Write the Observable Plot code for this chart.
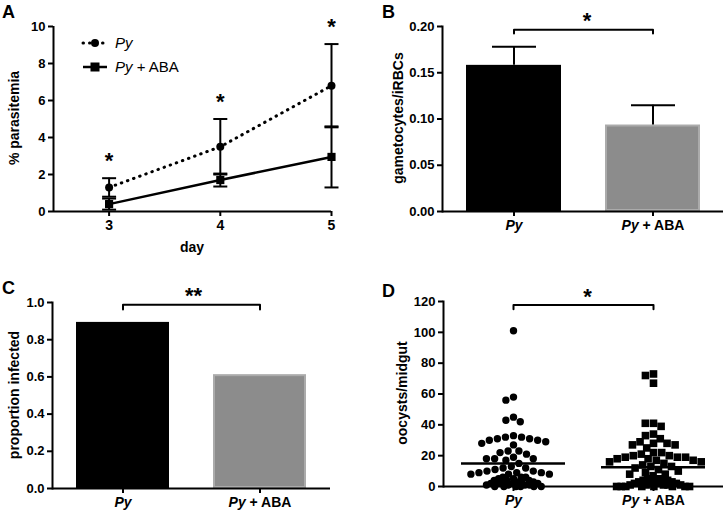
<!DOCTYPE html>
<html><head><meta charset="utf-8">
<script src="https://cdn.jsdelivr.net/npm/d3@7"></script>
<script src="https://cdn.jsdelivr.net/npm/@observablehq/plot@0.6"></script>
<style>
body{margin:0;background:#fff;}
#wrap{position:relative;width:725px;height:513px;font-family:"Liberation Sans",Arial,sans-serif;color:#000;overflow:hidden;}
.pn{position:absolute;}
.letter{position:absolute;font-weight:bold;font-size:18px;line-height:18px;}
.ylab{position:absolute;font-weight:bold;font-size:14px;line-height:14px;white-space:nowrap;transform:translate(-50%,-50%) rotate(-90deg);}
.xlab{position:absolute;font-weight:bold;font-size:14px;line-height:14px;white-space:nowrap;transform:translate(-50%,-50%);}
.leg{position:absolute;font-size:15px;line-height:16px;display:flex;align-items:center;white-space:nowrap;}
</style></head><body>
<div id="wrap"></div>
<script>
// ---------- Panel A: % parasitemia over days ----------
const days = [3, 4, 5];
const pyMean = [1.3, 3.5, 6.8];
const pyErr = [0.5, 1.5, 2.25];
const abaMean = [0.4, 1.7, 2.95];
const abaErr = [0.3, 0.35, 1.65];
const sigA = ["*", "*", "*"];
const ticksA = [0, 2, 4, 6, 8, 10];

// ---------- Panel B: gametocytes/iRBCs ----------
const groups = ["Py", "Py + ABA"];
const gamMean = [0.158, 0.0935];
const gamErr = [0.020, 0.0215];
const ticksB = [0, 0.05, 0.10, 0.15, 0.20];
const bracketB = [0.1925, 0.1965]; // tick foot, bar level
const starB = 0.2065;

// ---------- Panel C: proportion infected ----------
const propInfected = [0.893, 0.612];
const ticksC = [0, 0.2, 0.4, 0.6, 0.8, 1.0];
const bracketC = [0.962, 0.988];
const starC = 1.035;

// ---------- Panel D: oocysts/midgut ----------
const oocPy = [101, 58, 56, 45, 43, 42, 33, 32, 32, 31, 31, 30, 30, 29, 28, 27,
  23, 23, 22, 21, 19, 18, 18, 18, 17, 15, 13, 12, 12, 11, 10, 10, 9, 9, 9, 8, 8, 8,
  6, 6, 6, 5, 5, 4, 4, 4, 3, 3, 3, 3, 2, 2, 2, 2, 1, 1, 1, 1, 0, 0, 0, 0, 0, 0];
const oocAba = [73, 72, 67, 41, 41, 39, 34, 33, 31, 29, 28, 28, 27, 27, 25, 22, 22, 21,
  20, 20, 19, 19, 19, 18, 18, 17, 17, 16, 16, 15, 14, 13, 13, 12, 11, 10, 9, 8, 8, 7,
  5, 5, 4, 4, 4, 3, 3, 3, 2, 2, 2, 2, 1, 1, 1, 1, 1, 0, 0, 0, 0, 0, 0, 0, 0];
const oocMeans = [15, 12.5];
const ticksD = [0, 20, 40, 60, 80, 100, 120];
const bracketD = [115, 117.7];
const starD = 123;

// ---------- helpers ----------
const wrap = document.getElementById("wrap");
const FONT = '"Liberation Sans", Arial, sans-serif';
const baseStyle = {fontFamily: FONT, fontSize: "13px", fontWeight: "bold", color: "#000", background: "transparent", overflow: "visible"};
const cap = {draw(ctx, size) { const r = Math.sqrt(size / Math.PI); ctx.moveTo(-r, 0); ctx.lineTo(r, 0); }};
const circleSym = (rad) => ({draw(ctx) { ctx.moveTo(rad, 0); ctx.arc(0, 0, rad, 0, 2 * Math.PI); ctx.closePath(); }});
const squareSym = (h) => ({draw(ctx) { ctx.rect(-h, -h, 2 * h, 2 * h); }});

function place(el, left, top) {
  const d = document.createElement("div");
  d.className = "pn"; d.style.left = left + "px"; d.style.top = top + "px";
  d.appendChild(el); wrap.appendChild(d); return d;
}
function addHTML(cls, html, left, top) {
  const d = document.createElement("div");
  d.className = cls; d.innerHTML = html;
  d.style.left = left + "px"; d.style.top = top + "px";
  wrap.appendChild(d); return d;
}
function italicPy(svg) {
  d3.select(svg).selectAll("text").each(function () {
    const t = this.textContent;
    if (t === "Py") this.setAttribute("font-style", "italic");
    else if (t === "Py + ABA") {
      const s = d3.select(this); s.text(null);
      s.append("tspan").attr("font-style", "italic").text("Py");
      s.append("tspan").text(" + ABA");
    }
  });
}
const yAxis = (ticks, fmt) => Plot.axisY({ticks, tickFormat: fmt, tickSize: 5, tickPadding: 3, strokeWidth: 2, fontSize: 13, fontWeight: "bold", label: null});
const xAxisBand = () => Plot.axisX({tickSize: 5, tickPadding: 4, strokeWidth: 2, fontSize: 14, fontWeight: "bold", label: null});

// ---------- Panel A ----------
const aRows = days.flatMap((d, i) => [
  {day: d, g: "Py", m: pyMean[i], e: pyErr[i], s: sigA[i]},
  {day: d, g: "Py + ABA", m: abaMean[i], e: abaErr[i], s: ""}
]);
const aPy = aRows.filter(d => d.g === "Py");
const aAba = aRows.filter(d => d.g !== "Py");
const plotA = Plot.plot({
  width: 362, height: 260, marginLeft: 53, marginRight: 31, marginTop: 26, marginBottom: 49,
  style: baseStyle,
  x: {domain: [2.5, 5]},
  y: {domain: [0, 10]},
  marks: [
    Plot.axisX({ticks: days, tickFormat: d3.format("d"), tickSize: 5, tickPadding: 4, strokeWidth: 2, fontSize: 14, fontWeight: "bold", label: null}),
    yAxis(ticksA, d3.format("d")),
    Plot.ruleX(aRows, {x: "day", y1: d => d.m - d.e, y2: d => d.m + d.e, strokeWidth: 2}),
    Plot.dot(aRows, {x: "day", y: d => d.m - d.e, symbol: cap, r: 7, stroke: "#000", strokeWidth: 2}),
    Plot.dot(aRows, {x: "day", y: d => d.m + d.e, symbol: cap, r: 7, stroke: "#000", strokeWidth: 2}),
    Plot.line(aPy, {x: "day", y: "m", stroke: "#000", strokeWidth: 3, strokeDasharray: "0.5,6", strokeLinecap: "round"}),
    Plot.line(aAba, {x: "day", y: "m", stroke: "#000", strokeWidth: 2.5}),
    Plot.dot(aPy, {x: "day", y: "m", r: 4, fill: "#000"}),
    Plot.dot(aAba, {x: "day", y: "m", r: 4.6, symbol: "square", fill: "#000"}),
    Plot.text(aPy, {x: "day", y: d => d.m + d.e, text: "s", dy: -10, lineAnchor: "bottom", fontSize: 22, fontWeight: "bold"}),
    Plot.ruleY([0], {strokeWidth: 2}),
    Plot.ruleX([2.5], {strokeWidth: 2})
  ]
});
place(plotA, 0, 0);

// ---------- Panel B ----------
const bRows = groups.map((g, i) => ({g, v: gamMean[i], e: gamErr[i]}));
const bBr = [{g: groups[0], v: bracketB[0]}, {g: groups[0], v: bracketB[1]}, {g: groups[1], v: bracketB[1]}, {g: groups[1], v: bracketB[0]}];
const plotB = Plot.plot({
  width: 363, height: 260, marginLeft: 80, marginRight: 2, marginTop: 26, marginBottom: 49,
  style: baseStyle,
  x: {domain: groups, paddingInner: 0.32, paddingOuter: 0.17},
  y: {domain: [0, 0.2]},
  marks: [
    xAxisBand(),
    yAxis(ticksB, d3.format(".2f")),
    Plot.barY(bRows.filter(d => d.g === groups[0]), {x: "g", y: "v", fill: "#000"}),
    Plot.barY(bRows.filter(d => d.g === groups[1]), {x: "g", y: "v", fill: "#8c8c8c", stroke: "#ababab", strokeWidth: 2, inset: 1}),
    Plot.ruleX(bRows, {x: "g", y1: "v", y2: d => d.v + d.e, strokeWidth: 2}),
    Plot.dot(bRows, {x: "g", y: d => d.v + d.e, symbol: cap, r: 22, stroke: "#000", strokeWidth: 2}),
    Plot.line(bBr, {x: "g", y: "v", stroke: "#000", strokeWidth: 2}),
    Plot.text([starB], {y: d => d, text: () => "*", dx: 4, lineAnchor: "middle", fontSize: 22, fontWeight: "bold"}),
    Plot.ruleY([0], {strokeWidth: 2}),
    Plot.frame({anchor: "left", strokeWidth: 2})
  ]
});
italicPy(plotB);
place(plotB, 362, 0);

// ---------- Panel C ----------
const cRows = groups.map((g, i) => ({g, v: propInfected[i]}));
const cBr = [{g: groups[0], v: bracketC[0]}, {g: groups[0], v: bracketC[1]}, {g: groups[1], v: bracketC[1]}, {g: groups[1], v: bracketC[0]}];
const plotC = Plot.plot({
  width: 362, height: 253, marginLeft: 52, marginRight: 32, marginTop: 42, marginBottom: 25,
  style: baseStyle,
  x: {domain: groups, paddingInner: 0.32, paddingOuter: 0.17},
  y: {domain: [0, 1]},
  marks: [
    xAxisBand(),
    yAxis(ticksC, d3.format(".1f")),
    Plot.barY(cRows.filter(d => d.g === groups[0]), {x: "g", y: "v", fill: "#000"}),
    Plot.barY(cRows.filter(d => d.g === groups[1]), {x: "g", y: "v", fill: "#8c8c8c", stroke: "#ababab", strokeWidth: 2, inset: 1}),
    Plot.line(cBr, {x: "g", y: "v", stroke: "#000", strokeWidth: 2}),
    Plot.text([starC], {y: d => d, text: () => "**", dx: 2, lineAnchor: "middle", fontSize: 22, fontWeight: "bold"}),
    Plot.ruleY([0], {strokeWidth: 2}),
    Plot.frame({anchor: "left", strokeWidth: 2})
  ]
});
italicPy(plotC);
place(plotC, 0, 260);

// ---------- Panel D ----------
const dPy = oocPy.map(v => ({g: groups[0], v}));
const dAba = oocAba.map(v => ({g: groups[1], v}));
const dMeans = groups.map((g, i) => ({g, m: oocMeans[i]}));
const dBr = [
  {g: groups[0], x: 0, v: bracketD[0]}, {g: groups[0], x: 0, v: bracketD[1]}, {g: groups[0], x: 1, v: bracketD[1]},
  {g: groups[1], x: -1, v: bracketD[1]}, {g: groups[1], x: 0, v: bracketD[1]}, {g: groups[1], x: 0, v: bracketD[0]}
];
// collision radius for the column-scatter layout (drawn symbol size is fixed)
const collR = d => (d.v <= 6 ? 2.3 : 4.1);
const plotD = Plot.plot({
  width: 363, height: 253, marginLeft: 80, marginRight: 2, marginTop: 41, marginBottom: 27,
  style: baseStyle,
  fx: {domain: groups, padding: 0},
  x: {domain: [-1, 1], axis: null},
  y: {domain: [0, 120]},
  r: {type: "linear", domain: [0, 10], range: [0, 10]},
  marks: [
    Plot.axisFx({anchor: "bottom", tickSize: 5, tickPadding: 4, strokeWidth: 2, fontSize: 14, fontWeight: "bold", label: null}),
    yAxis(ticksD, d3.format("d")),
    Plot.dot(dPy, Plot.dodgeX({anchor: "middle", padding: 0}, {fx: "g", y: "v", r: collR, symbol: circleSym(3.7), fill: "#000"})),
    Plot.dot(dAba, Plot.dodgeX({anchor: "middle", padding: 0}, {fx: "g", y: "v", r: collR, symbol: squareSym(3.8), fill: "#000"})),
    Plot.tickY(dMeans, {fx: "g", y: "m", stroke: "#000", strokeWidth: 2.5, insetLeft: 18, insetRight: 18}),
    Plot.line(dBr, {fx: "g", x: "x", y: "v", stroke: "#000", strokeWidth: 2}),
    Plot.text(dBr.slice(2, 3), {fx: "g", x: "x", y: () => starD, text: () => "*", dx: 4, lineAnchor: "middle", fontSize: 22, fontWeight: "bold"}),
    Plot.ruleY([0], {strokeWidth: 2}),
    Plot.frame({anchor: "left", strokeWidth: 2, facetAnchor: "left"})
  ]
});
italicPy(plotD);
place(plotD, 362, 260);

// ---------- Titles, panel letters, legend ----------
addHTML("letter", "A", 2, 3);
addHTML("letter", "B", 382, 3);
addHTML("letter", "C", 2, 279);
addHTML("letter", "D", 382, 282);
addHTML("ylab", "% parasitemia", 14, 118);
addHTML("xlab", "day", 192, 247);
addHTML("ylab", "gametocytes/iRBCs", 398, 118);
addHTML("ylab", "proportion infected", 14, 395);
addHTML("ylab", "oocysts/midgut", 402, 393);

const legItems = [
  {label: "<i>Py</i>", svg: '<line x1="2" x2="26" y1="6" y2="6" stroke="#000" stroke-width="3" stroke-dasharray="0.5,6" stroke-linecap="round"/><circle cx="14" cy="6" r="4" fill="#000"/>', y: 35},
  {label: "<i>Py</i> + ABA", svg: '<line x1="2" x2="26" y1="6" y2="6" stroke="#000" stroke-width="2.5"/><rect x="9.5" y="1.5" width="9" height="9" fill="#000"/>', y: 59}
];
for (const it of legItems) {
  addHTML("leg", `<svg width="28" height="12" style="display:block">${it.svg}</svg><span style="margin-left:6px">${it.label}</span>`, 81, it.y);
}
</script>
</body></html>
